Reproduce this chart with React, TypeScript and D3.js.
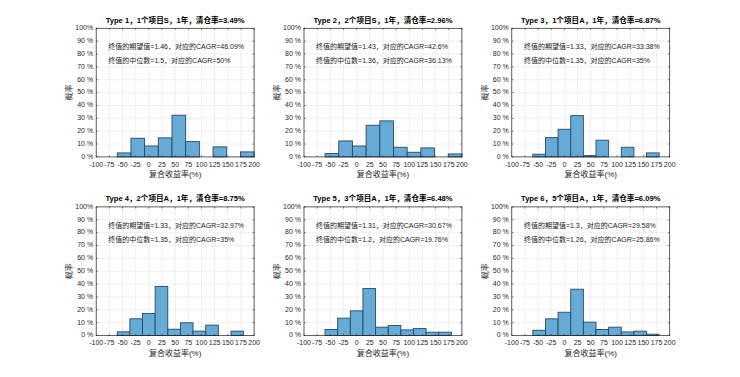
import React from "react";
import * as d3 from "d3";

const titles = [
  "Type 1，1个项目S，1年，清仓率=3.49%",
  "Type 2，2个项目S，1年，清仓率=2.96%",
  "Type 3，1个项目A，1年，清仓率=6.87%",
  "Type 4，2个项目A，1年，清仓率=8.75%",
  "Type 5，3个项目A，1年，清仓率=6.48%",
  "Type 6，5个项目A，1年，清仓率=6.09%",
];
const meanLines = [
  "终值的期望值=1.46，对应的CAGR=46.09%",
  "终值的期望值=1.43，对应的CAGR=42.6%",
  "终值的期望值=1.33，对应的CAGR=33.38%",
  "终值的期望值=1.33，对应的CAGR=32.97%",
  "终值的期望值=1.31，对应的CAGR=30.67%",
  "终值的期望值=1.3，对应的CAGR=29.58%",
];
const medianLines = [
  "终值的中位数=1.5，对应的CAGR=50%",
  "终值的中位数=1.36，对应的CAGR=36.13%",
  "终值的中位数=1.35，对应的CAGR=35%",
  "终值的中位数=1.35，对应的CAGR=35%",
  "终值的中位数=1.2，对应的CAGR=19.76%",
  "终值的中位数=1.26，对应的CAGR=25.86%",
];
const binEdgesS = [-60, -34, -8, 18, 44, 70, 96, 122, 148, 174, 200];
const binEdgesA = [-60, -36, -12, 12, 36, 60, 84, 108, 132, 156, 180];
const panelEdges = [binEdgesS, binEdgesS, binEdgesA, binEdgesA, binEdgesA, binEdgesA];
const probs1 = [3.1, 14.5, 8.5, 14.8, 32.4, 11.9, 0, 7.8, 0, 3.9];
const probs2 = [2.6, 12.4, 8.5, 24.6, 28, 7.5, 3.6, 7, 0, 2.3];
const probs3 = [2.1, 15, 21.5, 32.1, 1, 13, 0, 7.5, 0, 3.1];
const probs4 = [2.9, 13, 17.2, 38.2, 4.9, 9.9, 3.4, 8.1, 0, 3.4];
const probs5 = [4.7, 13.5, 19.2, 36.5, 6.5, 7.8, 4.4, 5.4, 2.6, 2.6];
const probs6 = [4.1, 13, 18.1, 36, 10.4, 4.7, 6.5, 2.8, 3.4, 1];
const panelProbs = [probs1, probs2, probs3, probs4, probs5, probs6];
const xTicks = [-100, -75, -50, -25, 0, 25, 50, 75, 100, 125, 150, 175, 200];
const yTicks = [0, 10, 20, 30, 40, 50, 60, 70, 80, 90, 100];
const yTickLabels = ["0 %", "10 %", "20 %", "30 %", "40 %", "50 %", "60 %", "70 %", "80 %", "90 %", "100%"];
const xLabel = "复合收益率(%)";
const yLabel = "概率";

const W = 740;
const H = 377;
const colLefts = [0.13, 0.4108, 0.6916].map((f) => f * W);
const rowTops = [(1 - 0.5838 - 0.3412) * H, (1 - 0.11 - 0.3412) * H];
const PW = 0.2134 * W;
const PH = 0.3412 * H;
const FONT = "'Liberation Sans', Arial, 'Noto Sans CJK SC', sans-serif";
const AX = "#262626";

function Panel({ idx }: { idx: number }) {
  const col = idx % 3;
  const row = Math.floor(idx / 3);
  const x0 = colLefts[col];
  const y0 = rowTops[row];
  const x = d3.scaleLinear().domain([-100, 200]).range([0, PW]);
  const y = d3.scaleLinear().domain([0, 100]).range([PH, 0]);
  const edges = panelEdges[idx];
  const probs = panelProbs[idx];
  return (
    <g transform={`translate(${x0},${y0})`}>
      <rect x={0} y={0} width={PW} height={PH} fill="#fff" />
      {xTicks.map((t) => (
        <line key={"gx" + t} x1={x(t)} x2={x(t)} y1={0} y2={PH} stroke="#e6e6e6" strokeWidth={0.6} />
      ))}
      {yTicks.map((t) => (
        <line key={"gy" + t} x1={0} x2={PW} y1={y(t)} y2={y(t)} stroke="#e6e6e6" strokeWidth={0.6} />
      ))}
      {probs.map((p, i) =>
        p > 0 ? (
          <rect
            key={"b" + i}
            x={x(edges[i])}
            y={y(p)}
            width={x(edges[i + 1]) - x(edges[i])}
            height={y(0) - y(p)}
            fill="#66aad7"
            stroke="#2a4861"
            strokeWidth={0.9}
          />
        ) : null
      )}
      <rect x={0} y={0} width={PW} height={PH} fill="none" stroke={AX} strokeWidth={0.7} />
      {xTicks.map((t) => (
        <g key={"tx" + t}>
          <line x1={x(t)} x2={x(t)} y1={PH} y2={PH - 1.6} stroke={AX} strokeWidth={0.6} />
          <line x1={x(t)} x2={x(t)} y1={0} y2={1.6} stroke={AX} strokeWidth={0.6} />
          <text x={x(t)} y={PH + 8} textAnchor="middle" dominantBaseline="middle" fontSize={7} fontFamily={FONT} fill={AX}>
            {t}
          </text>
        </g>
      ))}
      {yTicks.map((t, i) => (
        <g key={"ty" + t}>
          <line x1={0} x2={1.6} y1={y(t)} y2={y(t)} stroke={AX} strokeWidth={0.6} />
          <line x1={PW} x2={PW - 1.6} y1={y(t)} y2={y(t)} stroke={AX} strokeWidth={0.6} />
          <text x={-3} y={y(t)} textAnchor="end" dominantBaseline="middle" fontSize={7} fontFamily={FONT} fill={AX}>
            {yTickLabels[i]}
          </text>
        </g>
      ))}
      <text x={PW / 2} y={-5.5} textAnchor="middle" fontSize={7.6} fontWeight="bold" fontFamily={FONT} fill="#000">
        {titles[idx]}
      </text>
      <text x={x(-77)} y={y(85)} dominantBaseline="middle" fontSize={7} fontFamily={FONT} fill="#222">
        {meanLines[idx]}
      </text>
      <text x={x(-77)} y={y(74.5)} dominantBaseline="middle" fontSize={7} fontFamily={FONT} fill="#222">
        {medianLines[idx]}
      </text>
      <text x={PW / 2} y={PH + 18} textAnchor="middle" dominantBaseline="middle" fontSize={8} fontFamily={FONT} fill={AX}>
        {xLabel}
      </text>
      <text
        transform={`translate(${-26},${PH / 2}) rotate(-90)`}
        textAnchor="middle"
        dominantBaseline="middle"
        fontSize={8}
        fontFamily={FONT}
        fill={AX}
      >
        {yLabel}
      </text>
    </g>
  );
}

export default function App() {
  return (
    <svg
      width={W}
      height={H}
      style={{ position: "absolute", left: 0, top: 0, background: "#fff" }}
    >
      <rect width={W} height={H} fill="#fff" />
      {titles.map((_, i) => (
        <Panel key={i} idx={i} />
      ))}
    </svg>
  );
}
